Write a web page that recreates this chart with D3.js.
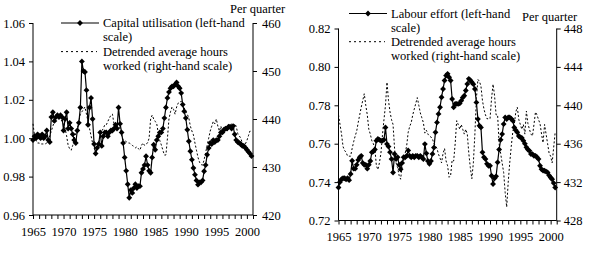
<!DOCTYPE html>
<html><head><meta charset="utf-8">
<script src="https://cdn.jsdelivr.net/npm/d3@7"></script>
<style>
html,body{margin:0;padding:0;background:#fff;}
svg text{font-family:"Liberation Serif","Times New Roman",serif;font-size:12.5px;fill:#000;}
</style></head>
<body><svg id="c" width="591" height="253"></svg>
<script>
// ---- data (quarterly, 1965Q1 .. 2000Q4) ----
const startYear = 1965;
const nQuarters = 144;
const capUtil = [
0.999,1.001,1.000,1.002, 1.001,1.000,1.002,1.000, 1.001,1.004,0.999,0.998, 1.011,1.0135,1.009,1.011,
1.012,1.011,1.012,1.011, 1.004,1.010,1.0135,1.005, 1.008,1.005,1.002,0.999, 0.9975,1.004,1.008,1.016,
1.040,1.035,1.0345,1.025, 1.007,1.016,1.021,1.010, 0.997,0.992,0.995,0.997, 1.003,0.996,1.001,1.003,
1.003,1.001,1.003,1.004, 1.004,1.005,1.007,1.005, 1.016,1.0075,1.003,0.9975, 0.990,0.983,0.976,0.969,
0.973,0.9715,0.974,0.976, 0.974,0.975,0.975,0.982, 0.984,0.986,0.9906,0.986, 0.983,0.982,0.990,0.9966,
0.994,0.999,1.001,1.003, 1.003,1.005,1.0105,1.016, 1.021,1.024,1.026,1.027, 1.027,1.028,1.029,1.027,
1.026,1.0235,1.0175,1.014, 1.0105,1.0044,0.9984,0.9932, 0.9888,0.9845,0.981,0.978, 0.9758,0.977,0.977,0.978,
0.9828,0.986,0.9914,0.9949, 0.9975,0.997,0.999,0.998, 0.999,0.999,1.001,1.003, 1.003,1.0044,1.005,1.005,
1.006,1.006,1.005,1.0063, 1.002,0.999,0.998,0.9975, 0.997,0.996,0.996,0.995, 0.994,0.993,0.992,0.9907];
const hoursA = [
439,436.5,435.5,435, 435,434.8,434.8,434.8, 434.8,435,435.5,436.5, 437.5,438.5,439.5,440,
440.5,440.5,440,439.5, 439,438,436.5,434.5, 433.8,433.5,434.5,436, 437,438,439.5,441,
441.5,442,442.5,441, 439.5,438,436.5,435, 434,433,433.5,435, 436.5,437.5,438,438.8,
438.8,439.5,440.2,440.8, 441,439,438,438.5, 439,438,436.5,435.7, 435.5,435.3,435,435,
434.8,434.5,434.3,434, 434.2,433.8,433.5,434.5, 435,434.5,434.8,435, 436,440,440.8,440,
439.5,439,437,435.5, 434.6,433.5,432.5,432.5, 436,440,441.5,442.5, 442,441,442.5,443.3,
443.5,443.7,443,442.3, 441.5,441,440.2,438.5, 437.5,436.7,435,433.5, 432,431,430.5,430.4,
431.5,433,434.5,436, 437.5,438.5,439.5,439, 440,438.5,437.5,438.5, 437,438,438.5,437.5,
438,438.5,439,438, 439,438.5,437,436.5, 436,435,434.6,434.8, 435.5,436.5,437.5,437.5];
const labourEffort = [
0.7372,0.7400,0.7415,0.742, 0.742,0.7415,0.742,0.741, 0.7442,0.7511,0.747,0.747, 0.749,0.7515,0.7529,0.7537,
0.750,0.749,0.749,0.747, 0.749,0.751,0.7555,0.756, 0.757,0.7616,0.7625,0.762, 0.7616,0.7616,0.762,0.7685,
0.7598,0.7585,0.7556,0.752, 0.745,0.7547,0.752,0.753, 0.749,0.7467,0.750,0.753, 0.7529,0.7537,0.7565,0.7537,
0.7529,0.7537,0.7529,0.7537, 0.7537,0.7529,0.7537,0.7529, 0.7520,0.7598,0.755,0.751, 0.7495,0.751,0.7547,0.758,
0.7659,0.7711,0.7755,0.779, 0.7842,0.7885,0.7929,0.7955, 0.7964,0.7946,0.7929,0.7833, 0.779,0.7807,0.7807,0.7807,
0.781,0.7824,0.784,0.785, 0.7877,0.7911,0.7938,0.793, 0.792,0.791,0.7885,0.7815, 0.7728,0.7694,0.7685,0.7555,
0.753,0.752,0.7495,0.7485, 0.7485,0.7433,0.739,0.742, 0.743,0.7503,0.757,0.762, 0.765,0.7702,0.7737,0.7728,
0.7737,0.7737,0.773,0.772, 0.7685,0.767,0.7659,0.764, 0.7633,0.763,0.7616,0.760, 0.7581,0.757,0.7563,0.7546,
0.7546,0.7537,0.7537,0.753, 0.752,0.7485,0.7467,0.746, 0.7459,0.7455,0.745,0.7435, 0.7424,0.7415,0.7395,0.7372];
const hoursB = [
439,438,437,435.7, 435.3,435.1,434.7,434.7, 434.7,435.5,436.2,436.8, 437.3,438.2,439,439.8,
440.5,441.2,440,439, 437.5,437,436.3,436, 435.5,433.7,433.3,434, 435,436.9,438.5,440,
442.4,440.5,439.3,438.5, 438,435.5,434,433.5, 432.7,432.3,433.7,434.2, 435,435.8,437.2,437.8,
438.2,439,439.6,440.2, 440.8,440,439.2,438.7, 438.2,437.1,437.4,437, 436.8,436.7,436.5,436,
435.8,435.5,434.9,434.5, 434,435,435.5,434.2, 433.7,432.5,432.7,434.3, 434.2,436,438.4,438,
437.5,438,437.5,437, 437.5,437,435,433.5, 432.35,434,437,440.7, 442.7,442.5,442,440.5,
439.6,439,438.6,438.6, 438.6,440.7,442.2,441, 439,439,436,435, 434,433,430.9,429.4,
432,434,435.7,437.2, 438,439.3,439.8,438.5, 438,437.5,438,437, 439.4,438.1,437.5,437,
436.8,438,439.3,439, 438.5,438.1,437,436.1, 438,437,436,435, 434.7,434,435.6,437.2];
const leftTicksA = [0.96,0.98,1.00,1.02,1.04,1.06];
const rightTicksA = [420,430,440,450,460];
const leftTicksB = [0.72,0.74,0.76,0.78,0.80,0.82];
const rightTicksB = [428,432,436,440,444,448];
const yearLabels = [1965,1970,1975,1980,1985,1990,1995,2000];
const legendA = ["Capital utilisation (left-hand","scale)","Detrended average hours","worked (right-hand scale)"];
const legendB = ["Labour effort (left-hand","scale)","Detrended average hours","worked (right-hand scale)"];

const quarters = d3.range(nQuarters).map(i => startYear + i/4);
const svg = d3.select("#c");

const diamond = { draw(ctx, size){ const r = Math.sqrt(size/2); ctx.moveTo(0,-r); ctx.lineTo(r,0); ctx.lineTo(0,r); ctx.lineTo(-r,0); ctx.closePath(); } };

function panel(o){
  const g = svg.append("g");
  const x = d3.scaleLinear().domain([1965,2001]).range([o.x0,o.x1]);
  const yL = d3.scaleLinear().domain(o.lDom).range([o.yb,o.yt]);
  const yR = d3.scaleLinear().domain(o.rDom).range([o.yb,o.yt]);

  // dotted series
  g.append("path").datum(o.dotted)
    .attr("fill","none").attr("stroke","#000").attr("stroke-width",1)
    .attr("stroke-dasharray","2,2")
    .attr("d", d3.line().x((d,i)=>x(quarters[i])).y(d=>yR(d)));
  // solid series
  g.append("path").datum(o.solid)
    .attr("fill","none").attr("stroke","#000").attr("stroke-width",1.2)
    .attr("d", d3.line().x((d,i)=>x(quarters[i])).y(d=>yL(d)));
  g.selectAll("path.m").data(o.solid).enter().append("path").attr("class","m")
    .attr("transform",(d,i)=>`translate(${x(quarters[i])},${yL(d)})`)
    .attr("d", d3.symbol().type(diamond).size(17)).attr("fill","#000");

  // axes
  const ax = g.append("g").attr("transform",`translate(0,${o.yb})`)
    .call(d3.axisBottom(x).tickValues(d3.range(1965,2002)).tickSize(4).tickPadding(8)
      .tickFormat(d => yearLabels.includes(d) ? String(d) : ""));
  const al = g.append("g").attr("transform",`translate(${o.x0},0)`)
    .call(d3.axisLeft(yL).tickValues(o.lTicks).tickSize(4).tickPadding(4).tickFormat(d3.format(".2f")));
  const ar = g.append("g").attr("transform",`translate(${o.x1},0)`)
    .call(d3.axisRight(yR).tickValues(o.rTicks).tickSize(4).tickPadding(o.rPad).tickFormat(d3.format("d")));
  [ax,al,ar].forEach(a=>{
    a.selectAll("text").style("font-family",'"Liberation Serif","Times New Roman",serif').style("font-size","12.5px").attr("fill","#000");
    a.selectAll("path,line").attr("stroke","#000");
  });
  ax.select(".domain").attr("d",`M${o.x0},0H${o.x1}`);
  al.select(".domain").attr("d",`M0,${o.yb}V${o.yt}`);
  ar.select(".domain").attr("d",`M0,${o.yb}V${o.yt}`);

  g.append("text").attr("x",o.pqX).attr("y",o.pqY).text("Per quarter");

  // legend
  const lx0 = o.legX, lx1 = o.legX + 38;
  g.append("line").attr("x1",lx0).attr("x2",lx1).attr("y1",o.legY).attr("y2",o.legY)
    .attr("stroke","#000").attr("stroke-width",1.2);
  g.append("path").attr("transform",`translate(${(lx0+lx1)/2},${o.legY})`)
    .attr("d", d3.symbol().type(diamond).size(17)).attr("fill","#000");
  g.append("line").attr("x1",lx0).attr("x2",lx1-2).attr("y1",o.legY+o.lh*2).attr("y2",o.legY+o.lh*2)
    .attr("stroke","#000").attr("stroke-width",1).attr("stroke-dasharray","2,3");
  o.legend.forEach((t,i)=>{
    g.append("text").attr("x",lx1+4).attr("y",o.legY+i*o.lh).attr("dy","0.32em").text(t);
  });
}

panel({x0:33,x1:253,yt:23,yb:215,lDom:[0.96,1.06],rDom:[420,460],
  lTicks:leftTicksA,rTicks:rightTicksA,solid:capUtil,dotted:hoursA,rPad:5,
  pqX:230,pqY:13,legX:61,legY:23,lh:14.3,legend:legendA});
panel({x0:338.5,x1:556.7,yt:28.5,yb:220.5,lDom:[0.72,0.82],rDom:[428,448],
  lTicks:leftTicksB,rTicks:rightTicksB,solid:labourEffort,dotted:hoursB,rPad:3,
  pqX:522,pqY:20.5,legX:349,legY:13.5,legend:legendB,lh:14.1});
</script></body></html>
